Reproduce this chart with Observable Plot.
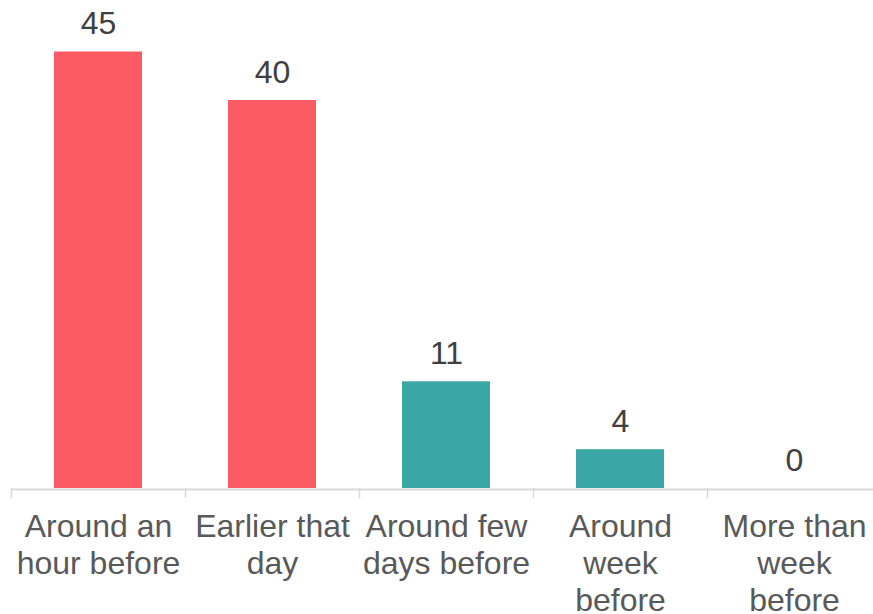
<!DOCTYPE html>
<html>
<head>
<meta charset="utf-8">
<script src="https://cdn.jsdelivr.net/npm/d3@7"></script>
<script src="https://cdn.jsdelivr.net/npm/@observablehq/plot@0.6"></script>
<style>
  html, body { margin: 0; padding: 0; background: #fff; }
</style>
</head>
<body>
<div id="chart"></div>
<script>
const categories = ["Around an hour before", "Earlier that day", "Around few days before", "Around week before", "More than week before"];
const tickLabels = ["Around an\nhour before", "Earlier that\nday", "Around few\ndays before", "Around\nweek\nbefore", "More than\nweek\nbefore"];
const values = [45, 40, 11, 4, 0];
const groups = ["same day", "same day", "earlier", "earlier", "earlier"];

const data = categories.map((c, i) => ({category: c, label: tickLabels[i], value: values[i], group: groups[i]}));

const chart = Plot.plot({
  width: 873,
  height: 614,
  marginTop: 0,
  marginLeft: 11,
  marginRight: 0,
  marginBottom: 126,
  style: {fontFamily: "Arial, 'Liberation Sans', sans-serif", fontSize: "32px", background: "#fff", overflow: "visible"},
  x: {domain: categories, range: [11, 881], padding: 0, axis: null},
  y: {domain: [0, 45], range: [488, 51.5], axis: null},
  color: {domain: ["same day", "earlier"], range: ["#FC5B66", "#3AA7A6"]},
  marks: [
    Plot.barY(data, {x: "category", y: "value", fill: "group", insetLeft: 43, insetRight: 43}),
    Plot.ruleY([0], {stroke: "#d9d9d9", strokeWidth: 2, dy: 1}),
    Plot.ruleX(data, {x: "category", y1: 0, y2: 0, insetBottom: -10, dx: -87, stroke: "#d9d9d9", strokeWidth: 1.5}),
    Plot.text(data, {x: "category", y: "value", text: d => String(d.value), dy: -18, lineAnchor: "bottom", fill: "#404040", fontSize: 32}),
    Plot.text(data, {x: "category", frameAnchor: "bottom", text: "label", lineAnchor: "top", lineHeight: 1.147, dy: 22.6, fill: "#595959", fontSize: 32})
  ]
});
document.getElementById("chart").appendChild(chart);
</script>
</body>
</html>
